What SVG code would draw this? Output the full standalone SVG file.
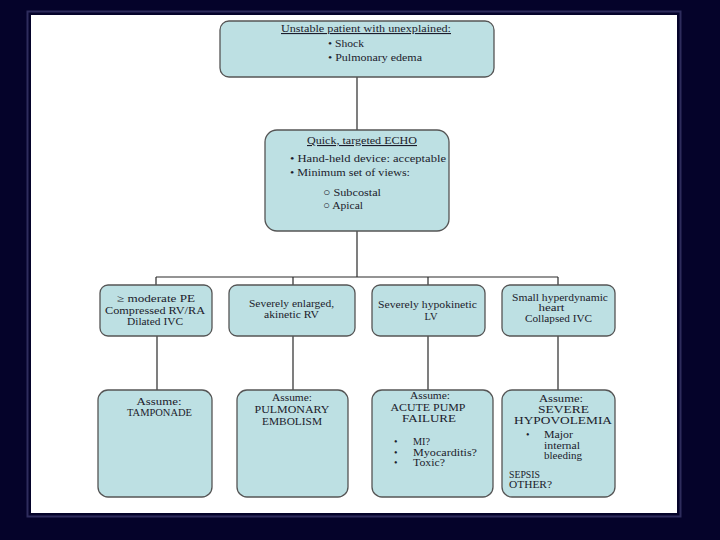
<svg xmlns="http://www.w3.org/2000/svg" width="720" height="540" viewBox="0 0 720 540">
<style>
.box{fill:#bde0e3;stroke:#555;stroke-width:1.3}
.t{font-family:"Liberation Serif","Times New Roman",serif;font-size:11px;fill:#1c1c2c}
.s{font-size:10px}
.c{text-anchor:middle}
.u{text-decoration:underline}
.ln{stroke:#2a2a2a;stroke-width:1.2;fill:none}
</style>
<rect width="720" height="540" fill="#05032a"/>
<rect x="27.5" y="11.5" width="653" height="505" fill="none" stroke="#2e2c5c" stroke-width="2"/>
<rect x="31" y="15" width="646" height="498" fill="#ffffff"/>
<g id="connectors">
<path class="ln" d="M357 77 V130 M357 231 V277 M156 277 H558 M156 277 V285 M293 277 V285 M428 277 V285 M558 277 V285 M157 336 V390 M293 336 V390 M428 336 V390 M558 336 V390"/>
</g>
<g id="top">
<rect class="box" x="220" y="21" width="274" height="56" rx="9"/>
<text class="t c u" x="366" y="32" textLength="170" lengthAdjust="spacingAndGlyphs">Unstable patient with unexplained:</text>
<text class="t" x="328" y="47" textLength="36" lengthAdjust="spacingAndGlyphs">• Shock</text>
<text class="t" x="328" y="61" textLength="94" lengthAdjust="spacingAndGlyphs">• Pulmonary edema</text>
</g>
<g id="echo">
<rect class="box" x="265" y="130" width="184" height="101" rx="12"/>
<text class="t c u" x="362" y="144" textLength="110" lengthAdjust="spacingAndGlyphs">Quick, targeted ECHO</text>
<text class="t" x="290" y="162" textLength="156" lengthAdjust="spacingAndGlyphs">• Hand-held device: acceptable</text>
<text class="t" x="290" y="176" textLength="120" lengthAdjust="spacingAndGlyphs">• Minimum set of views:</text>
<text class="t" x="323" y="196" textLength="58" lengthAdjust="spacingAndGlyphs">○ Subcostal</text>
<text class="t" x="323" y="209" textLength="40" lengthAdjust="spacingAndGlyphs">○ Apical</text>
</g>
<g id="m1">
<rect class="box" x="100" y="285" width="112" height="51" rx="8"/>
<text class="t c s" x="156" y="302" textLength="78" lengthAdjust="spacingAndGlyphs">≥ moderate PE</text>
<text class="t c s" x="155" y="313.5" textLength="100" lengthAdjust="spacingAndGlyphs">Compressed RV/RA</text>
<text class="t c s" x="155" y="325" textLength="56" lengthAdjust="spacingAndGlyphs">Dilated IVC</text>
</g>
<g id="m2">
<rect class="box" x="229" y="285" width="126" height="51" rx="8"/>
<text class="t c s" x="291.5" y="306.5" textLength="85" lengthAdjust="spacingAndGlyphs">Severely enlarged,</text>
<text class="t c s" x="291.5" y="318" textLength="55" lengthAdjust="spacingAndGlyphs">akinetic RV</text>
</g>
<g id="m3">
<rect class="box" x="372" y="285" width="113" height="51" rx="8"/>
<text class="t c s" x="427.5" y="308" textLength="99" lengthAdjust="spacingAndGlyphs">Severely hypokinetic</text>
<text class="t c s" x="431" y="319.5" textLength="13" lengthAdjust="spacingAndGlyphs">LV</text>
</g>
<g id="m4">
<rect class="box" x="502" y="285" width="113" height="51" rx="8"/>
<text class="t c s" x="560" y="300.5" textLength="96" lengthAdjust="spacingAndGlyphs">Small hyperdynamic</text>
<text class="t c s" x="551.5" y="311" textLength="26" lengthAdjust="spacingAndGlyphs">heart</text>
<text class="t c s" x="558.5" y="321.5" textLength="67" lengthAdjust="spacingAndGlyphs">Collapsed IVC</text>
</g>
<g id="b1">
<rect class="box" x="98" y="390" width="114" height="107" rx="10"/>
<text class="t c s" x="159" y="404.5" textLength="45" lengthAdjust="spacingAndGlyphs">Assume:</text>
<text class="t c s" x="159.5" y="416" textLength="65" lengthAdjust="spacingAndGlyphs">TAMPONADE</text>
</g>
<g id="b2">
<rect class="box" x="237" y="390" width="111" height="107" rx="10"/>
<text class="t c s" x="292" y="401" textLength="40" lengthAdjust="spacingAndGlyphs">Assume:</text>
<text class="t c" x="292" y="413" textLength="75" lengthAdjust="spacingAndGlyphs">PULMONARY</text>
<text class="t c" x="292" y="425" textLength="60" lengthAdjust="spacingAndGlyphs">EMBOLISM</text>
</g>
<g id="b3">
<rect class="box" x="372" y="390" width="121" height="107" rx="10"/>
<text class="t c s" x="430" y="399" textLength="40" lengthAdjust="spacingAndGlyphs">Assume:</text>
<text class="t c s" x="428" y="410.5" textLength="75" lengthAdjust="spacingAndGlyphs">ACUTE PUMP</text>
<text class="t c s" x="429" y="422" textLength="54" lengthAdjust="spacingAndGlyphs">FAILURE</text>
<text class="t s" x="394" y="445">•</text><text class="t s" x="413" y="445" textLength="17" lengthAdjust="spacingAndGlyphs">MI?</text>
<text class="t s" x="394" y="455.5">•</text><text class="t s" x="413" y="455.5" textLength="64" lengthAdjust="spacingAndGlyphs">Myocarditis?</text>
<text class="t s" x="394" y="466">•</text><text class="t s" x="413" y="466" textLength="32" lengthAdjust="spacingAndGlyphs">Toxic?</text>
</g>
<g id="b4">
<rect class="box" x="502" y="390" width="113" height="107" rx="10"/>
<text class="t c s" x="561" y="402" textLength="44" lengthAdjust="spacingAndGlyphs">Assume:</text>
<text class="t c s" x="563.5" y="413" textLength="51" lengthAdjust="spacingAndGlyphs">SEVERE</text>
<text class="t c s" x="563" y="424" textLength="98" lengthAdjust="spacingAndGlyphs">HYPOVOLEMIA</text>
<text class="t s" x="526" y="438">•</text>
<text class="t s" x="544" y="438" textLength="29" lengthAdjust="spacingAndGlyphs">Major</text>
<text class="t s" x="544" y="448.5" textLength="36" lengthAdjust="spacingAndGlyphs">internal</text>
<text class="t s" x="544" y="459" textLength="38" lengthAdjust="spacingAndGlyphs">bleeding</text>
<text class="t s" x="509" y="477.5" textLength="31" lengthAdjust="spacingAndGlyphs">SEPSIS</text>
<text class="t s" x="509" y="488" textLength="43" lengthAdjust="spacingAndGlyphs">OTHER?</text>
</g>
</svg>
